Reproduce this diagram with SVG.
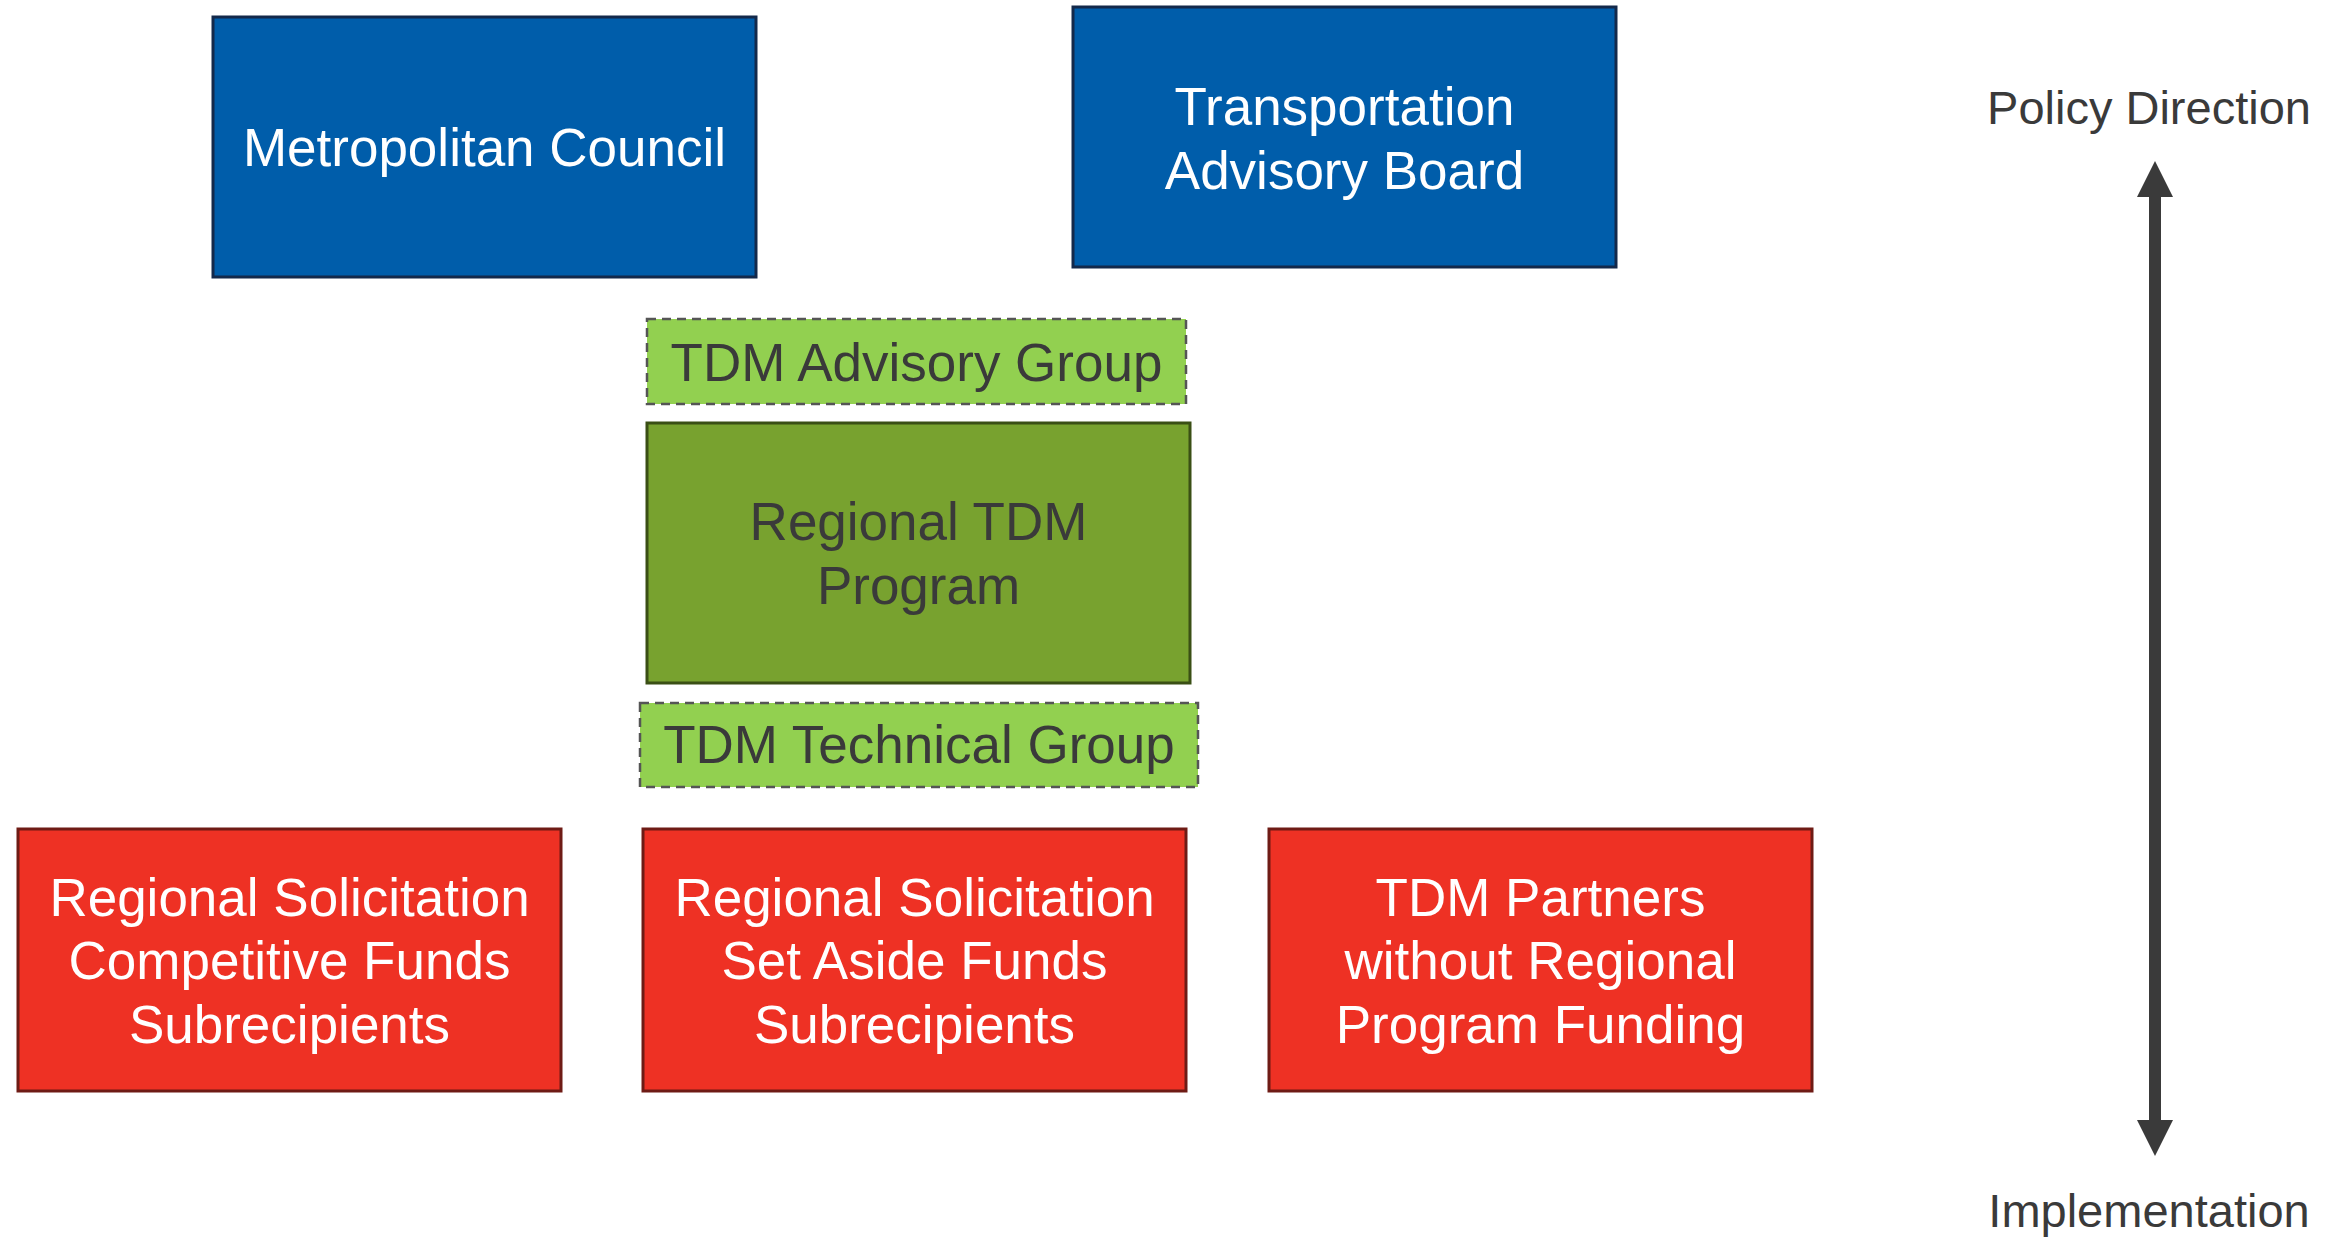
<svg xmlns="http://www.w3.org/2000/svg" width="2333" height="1238" viewBox="0 0 2333 1238">
<style>
text{font-family:"Liberation Sans",Arial,sans-serif;font-size:53px;text-anchor:middle}
.blue{fill:#005DAA;stroke:#13294B;stroke-width:3}
.lg{fill:#92D050;stroke:#555;stroke-width:2.5;stroke-dasharray:9 6}
.dg{fill:#78A22F;stroke:#3A4F15;stroke-width:3}
.red{fill:#EE3124;stroke:#6E1B15;stroke-width:3}
.w{fill:#fff}
.d{fill:#3A3A3A}
</style>
<defs>
<marker id="ah" markerWidth="3" markerHeight="3" refX="0" refY="1.5" orient="auto" markerUnits="strokeWidth">
<path d="M0,0 L3,1.5 L0,3 Z" fill="#3A3A3A"/>
</marker>
</defs>
<g id="metropolitan-council"><rect class="blue" x="213" y="17" width="543" height="260"/><text class="w" x="484.5" y="166">Metropolitan Council</text></g>
<g id="transportation-advisory-board"><rect class="blue" x="1073" y="7" width="543" height="260"/><text class="w" x="1344.5" y="125">Transportation</text><text class="w" x="1344.5" y="189">Advisory Board</text></g>
<g id="tdm-advisory-group"><rect class="lg" x="647" y="319" width="539" height="85"/><text class="d" x="916.5" y="381">TDM Advisory Group</text></g>
<g id="regional-tdm-program"><rect class="dg" x="647" y="423" width="543" height="260"/><text class="d" x="918.5" y="540">Regional TDM</text><text class="d" x="918.5" y="604">Program</text></g>
<g id="tdm-technical-group"><rect class="lg" x="640" y="703" width="558" height="84"/><text class="d" x="919" y="763">TDM Technical Group</text></g>
<g id="competitive-funds"><rect class="red" x="18" y="829" width="543" height="262"/><text class="w" x="289.5" y="916">Regional Solicitation</text><text class="w" x="289.5" y="979">Competitive Funds</text><text class="w" x="289.5" y="1043">Subrecipients</text></g>
<g id="set-aside-funds"><rect class="red" x="643" y="829" width="543" height="262"/><text class="w" x="914.5" y="916">Regional Solicitation</text><text class="w" x="914.5" y="979">Set Aside Funds</text><text class="w" x="914.5" y="1043">Subrecipients</text></g>
<g id="tdm-partners"><rect class="red" x="1269" y="829" width="543" height="262"/><text class="w" x="1540.5" y="916">TDM Partners</text><text class="w" x="1540.5" y="979">without Regional</text><text class="w" x="1540.5" y="1043">Program Funding</text></g>
<g id="axis-labels"><text class="d" x="2149" y="124" style="font-size:47px">Policy Direction</text><text class="d" x="2149" y="1227" style="font-size:47px">Implementation</text></g>
<g id="connectors">
<line x1="2155" y1="194" x2="2155" y2="1122" stroke="#3A3A3A" stroke-width="12"/>
<path d="M2137,197 L2155,161 L2173,197 Z" fill="#3A3A3A"/>
<path d="M2137,1120 L2155,1156 L2173,1120 Z" fill="#3A3A3A"/>
</g>
</svg>
